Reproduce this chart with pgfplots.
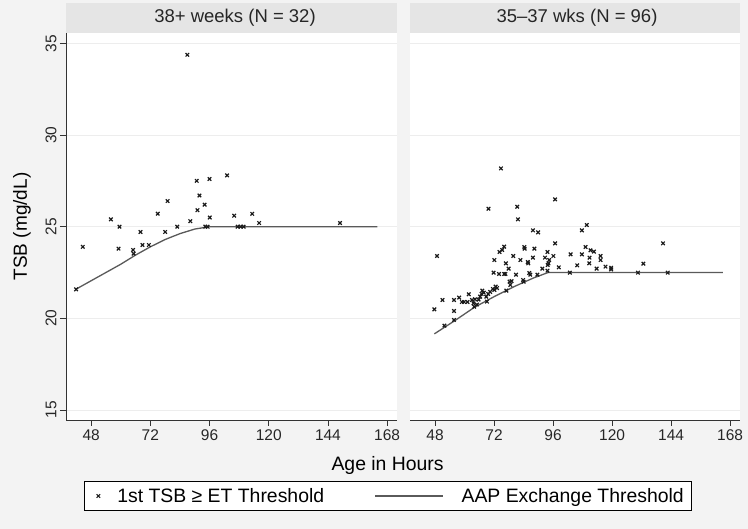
\documentclass[border=0pt]{standalone}
\usepackage{fontspec}
\setmainfont{Liberation Sans}
\usepackage{pgfplots}
\pgfplotsset{compat=1.18}
\definecolor{figbg}{HTML}{F3F3F3}
\definecolor{headbg}{HTML}{E5E5E5}
\definecolor{gridcol}{HTML}{EDEDED}
\definecolor{markcol}{HTML}{1A1A1A}
\definecolor{linecol}{HTML}{5A5A5A}
\definecolor{axcol}{HTML}{333333}
\pgfplotsset{
  legscat/.style={legend image code/.code={\path[draw=none] (0pt,0pt) -- (25.3pt,0pt); \draw[mark repeat=2,mark phase=2,##1] plot coordinates {(0pt,0pt) (8.4pt,0pt) (25.3pt,0pt)};}},
  legline/.style={legend image code/.code={\draw[##1] (0pt,0pt) -- (67.6pt,0pt); \path[draw=none] (0pt,0pt) -- (84.5pt,0pt);}},
}
\begin{document}
\begin{tikzpicture}
\fill[figbg] (0pt,0pt) rectangle (748pt,529pt);
\pgfplotsset{panel/.style={
  anchor=south west, scale only axis, height=387pt,
  xmin=37.8, xmax=172, ymin=14.45, ymax=35.57,
  xtick={48,72,96,120,144,168}, ytick={15,20,25,30,35},
  axis x line*=bottom, axis y line*=left,
  x axis line style={-, draw=axcol, line width=0.9pt},
  y axis line style={-, draw=axcol, line width=0.9pt},
  tick align=outside, major tick length=6pt,
  tick style={draw=axcol, line width=0.8pt},
  ymajorgrids, major grid style={draw=gridcol, line width=0.7pt},
  axis background/.style={fill=white},
  tick label style={font=\fontsize{15.5}{15.5}\selectfont, text=black!85},
  /pgf/number format/assume math mode=true,
  scatter/.style={only marks, mark=x, mark size=2.5pt, mark options={draw=markcol, line width=1.2pt}},
  aap/.style={no marks, draw=linecol, line width=1.3pt},
}}
\begin{axis}[panel, at={(66pt,109pt)}, width=331pt,
  yticklabel style={rotate=90, anchor=south},
  ylabel={TSB (mg/dL)},
  ylabel style={at={(axis description cs:-0.133,0.5)}, anchor=center, font=\fontsize{19}{19}\selectfont},
  xlabel={Age in Hours},
  xlabel style={at={(axis description cs:0.9716,-0.1163)}, anchor=center, font=\fontsize{19.4}{19.4}\selectfont},
  legend style={at={(axis description cs:0.9724,-0.1964)}, anchor=center, draw=black, fill=white,
    line width=0.8pt, font=\fontsize{19.4}{22}\selectfont, inner xsep=6pt, inner ysep=5pt,
    /tikz/every even column/.append style={column sep=48.3pt}},
  legend columns=2, legend cell align=left,
]
\addplot[scatter, legscat] table {
41.9 21.58
44.6 23.9
56.0 25.4
59.5 25.0
59.1 23.8
65.0 23.73
65.2 23.53
68.0 24.71
68.8 24.0
71.4 24.0
75.0 25.71
78.0 24.71
79.0 26.4
82.9 25.0
88.2 25.3
91.1 25.9
90.8 27.5
91.9 26.7
94.0 26.2
94.3 25.0
95.2 25.0
96.0 27.6
96.1 25.5
103.1 27.8
106.0 25.6
107.4 25.0
108.6 25.0
109.8 25.0
113.3 25.7
116.1 25.2
148.9 25.2
87.0 34.38
};
\addlegendentry{1st TSB ≥ ET Threshold}
\addplot[aap, legline] table {
42 21.6
48 22.05
54 22.5
60 22.95
66 23.45
72 23.9
78 24.3
84 24.62
90 24.87
96 25.0
164 25.0
};
\addlegendentry{AAP Exchange Threshold\hspace{15pt}}
\end{axis}
\begin{axis}[panel, at={(410pt,109pt)}, width=330pt,
  y axis line style={draw=none}, ytick style={draw=none}, yticklabels={},
]
\addplot[scatter] table {
74.8 28.18
96.8 26.49
69.7 25.98
81.4 26.09
81.7 25.4
87.8 24.8
89.9 24.69
107.7 24.8
109.7 25.09
140.7 24.09
96.8 24.09
48.8 23.4
109.2 23.89
111.2 23.71
112.6 23.64
103.1 23.49
107.7 23.49
115.3 23.4
110.8 23.31
115.3 23.18
105.8 22.89
110.7 23.0
113.7 22.71
117.3 22.82
119.6 22.76
119.6 22.67
132.7 22.98
102.8 22.49
130.5 22.49
142.6 22.49
98.3 22.78
76.1 23.91
75.3 23.73
74.2 23.62
84.3 23.89
84.4 23.8
88.4 23.8
72.1 23.18
79.8 23.4
82.7 23.18
85.7 23.07
85.9 23.0
87.8 23.31
76.8 23.0
77.9 22.71
93.7 23.62
92.7 23.31
96.1 23.4
94.4 23.18
94.1 23.0
93.8 22.91
91.6 22.71
71.8 22.49
74.0 22.42
76.1 22.42
76.6 22.42
80.9 22.38
86.3 22.47
86.7 22.38
89.6 22.38
93.7 22.6
83.8 22.09
84.0 22.0
79.1 22.03
78.6 21.82
77.0 21.51
72.6 21.73
72.1 21.55
70.4 21.44
69.6 21.33
68.8 21.18
69.1 20.91
67.2 21.51
66.9 21.33
66.3 21.18
65.7 21.02
64.2 21.04
63.6 20.82
63.9 20.63
63.0 21.0
61.7 21.31
61.2 20.89
59.8 20.89
58.9 20.89
57.8 21.13
55.7 21.0
51.0 21.0
47.7 20.49
55.7 20.4
55.7 19.91
51.8 19.6
71.5 21.6
67.8 21.4
65.0 20.75
73.2 21.65
78.3 22.0
};
\addplot[aap] table {
47.7 19.15
56 19.87
64 20.6
72 21.18
80 21.72
88 22.2
94 22.5
165 22.5
};
\end{axis}
\fill[headbg] (66pt,496pt) rectangle (397pt,526pt);
\node[font=\fontsize{18.5}{19}\selectfont, text=black!85] at (235pt,511pt) {38+ weeks (N = 32)};
\fill[headbg] (410pt,496pt) rectangle (740pt,526pt);
\node[font=\fontsize{18.5}{19}\selectfont, text=black!85] at (577pt,511pt) {35–37 wks (N = 96)};
\pgfresetboundingbox
\path[use as bounding box] (0pt,0pt) rectangle (748pt,529pt);
\end{tikzpicture}
\end{document}
